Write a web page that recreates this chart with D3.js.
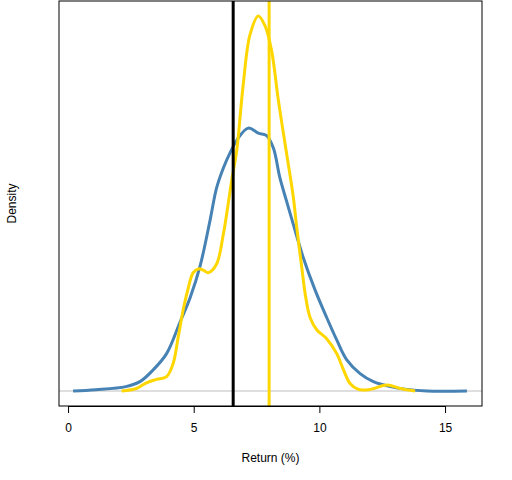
<!DOCTYPE html>
<html>
<head>
<meta charset="utf-8">
<script src="https://cdn.jsdelivr.net/npm/d3@7"></script>
<style>
  body { margin: 0; background: #fff; }
  text { font-family: "Liberation Sans", Arial, sans-serif; }
</style>
</head>
<body>
<div id="chart"></div>
<script>
// density estimates (x = return %, y = density)
const blueX = [0.2, 1.1, 2.3, 2.86, 3.39, 3.92, 4.45, 4.86, 5.25, 5.65, 5.91, 6.18, 6.44, 6.77, 7.17, 7.57, 7.9, 8.17, 8.43, 8.7, 8.96, 9.36, 9.83, 10.29, 10.69, 11.09, 11.62, 12.15, 12.82, 13.48, 14.28, 15.87];
const blueY = [0, 0.001, 0.0035, 0.0075, 0.017, 0.03, 0.055, 0.075, 0.1, 0.137, 0.163, 0.179, 0.191, 0.203, 0.211, 0.207, 0.205, 0.195, 0.171, 0.152, 0.134, 0.107, 0.081, 0.059, 0.041, 0.025, 0.014, 0.0075, 0.0035, 0.0013, 0, 0];

const goldX = [2.13, 2.72, 3.12, 3.52, 3.92, 4.18, 4.38, 4.58, 4.75, 4.98, 5.18, 5.38, 5.58, 5.91, 6.18, 6.37, 6.51, 6.71, 6.97, 7.24, 7.57, 7.84, 8.1, 8.37, 8.7, 8.96, 9.1, 9.3, 9.45, 9.63, 9.9, 10.29, 10.69, 10.96, 11.22, 11.55, 12.02, 12.69, 13.22, 13.81];
const goldY = [0, 0.002, 0.0066, 0.0093, 0.0115, 0.022, 0.043, 0.065, 0.08, 0.095, 0.098, 0.097, 0.095, 0.102, 0.126, 0.15, 0.169, 0.193, 0.246, 0.286, 0.301, 0.293, 0.273, 0.233, 0.19, 0.156, 0.131, 0.099, 0.076, 0.059, 0.049, 0.042, 0.03, 0.017, 0.006, 0.0013, 0.0013, 0.0048, 0.002, 0];

const blackLine = 6.57;
const goldLine = 8.0;
const xTicks = [0, 5, 10, 15];

const width = 512, height = 480;
const box = { left: 59, right: 482, top: 1, bottom: 406 };

const svg = d3.select("#chart").append("svg")
    .attr("width", width)
    .attr("height", height);

const x = d3.scaleLinear().domain([-0.36, 16.47]).range([box.left, box.right]);
const yMax = d3.max(goldY.concat(blueY));
const y = d3.scaleLinear().domain([-0.04 * yMax, 1.04 * yMax]).range([box.bottom, box.top]);

// zero line
svg.append("line")
    .attr("x1", box.left).attr("x2", box.right)
    .attr("y1", y(0)).attr("y2", y(0))
    .attr("stroke", "#bebebe")
    .attr("stroke-width", 1);

const line = d3.line()
    .x(d => x(d[0]))
    .y(d => y(Math.max(0, d[1])))
    .curve(d3.curveCatmullRom.alpha(0.5));

svg.append("path")
    .datum(blueX.map((v, i) => [v, blueY[i]]))
    .attr("d", line)
    .attr("fill", "none")
    .attr("stroke", "steelblue")
    .attr("stroke-width", 3);

svg.append("path")
    .datum(goldX.map((v, i) => [v, goldY[i]]))
    .attr("d", line)
    .attr("fill", "none")
    .attr("stroke", "gold")
    .attr("stroke-width", 3);

// vertical reference lines
svg.append("line")
    .attr("x1", x(blackLine)).attr("x2", x(blackLine))
    .attr("y1", box.top).attr("y2", box.bottom)
    .attr("stroke", "black").attr("stroke-width", 3);

svg.append("line")
    .attr("x1", x(goldLine)).attr("x2", x(goldLine))
    .attr("y1", box.top).attr("y2", box.bottom)
    .attr("stroke", "gold").attr("stroke-width", 3);

// frame
svg.append("rect")
    .attr("x", box.left).attr("y", box.top)
    .attr("width", box.right - box.left)
    .attr("height", box.bottom - box.top)
    .attr("fill", "none")
    .attr("stroke", "black")
    .attr("stroke-width", 1);

// x axis
const xAxis = d3.axisBottom(x).tickValues(xTicks).tickSize(7).tickPadding(10);
svg.append("g")
    .attr("transform", `translate(0,${box.bottom})`)
    .call(xAxis)
    .call(g => g.selectAll("text").attr("font-size", 12).attr("fill", "black")
        .attr("font-family", "Liberation Sans, Arial, sans-serif"))
    .call(g => g.select(".domain")
        .attr("d", `M${x(xTicks[0])},0.5H${x(xTicks[xTicks.length - 1])}`));

svg.append("text")
    .attr("x", (box.left + box.right) / 2)
    .attr("y", 462)
    .attr("text-anchor", "middle")
    .attr("font-size", 12)
    .text("Return (%)");

svg.append("text")
    .attr("transform", `translate(16,${(box.top + box.bottom) / 2}) rotate(-90)`)
    .attr("text-anchor", "middle")
    .attr("font-size", 12)
    .text("Density");
</script>
</body>
</html>
